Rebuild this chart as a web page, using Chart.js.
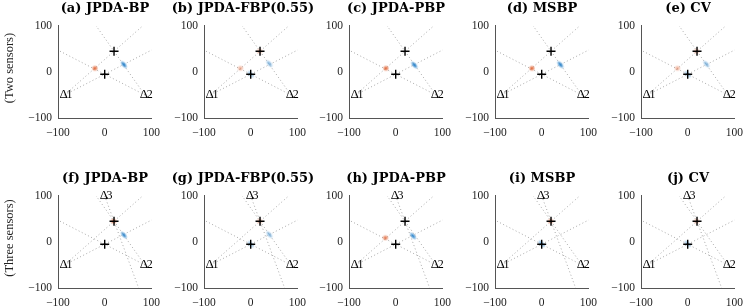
<!DOCTYPE html>
<html>
<head>
<meta charset="utf-8">
<script src="https://cdn.jsdelivr.net/npm/chart.js@4.4.1/dist/chart.umd.min.js"></script>
<style>
  body { margin: 0; background: #fff; }
  #fig { position: relative; width: 747px; height: 308px; overflow: hidden; background: #fff; }
  .panel { position: absolute; }
  .ttl { position: absolute; font: bold 13px "DejaVu Serif"; color: #000; white-space: nowrap; transform: translateX(-50%); }
  .rowlab { position: absolute; font: 12.5px "Liberation Serif"; color: #222; white-space: nowrap; transform: translate(-50%, -50%) rotate(-90deg); }
</style>
</head>
<body>
<div id="fig"></div>
<script>
"use strict";

// axis ticks
var tickValues = [-100, 0, 100];
var tickLabels = ['\u2212100', '0', '100'];

var topTitles = ['(a) JPDA-BP', '(b) JPDA-FBP(0.55)', '(c) JPDA-PBP', '(d) MSBP', '(e) CV'];
var bottomTitles = ['(f) JPDA-BP', '(g) JPDA-FBP(0.55)', '(h) JPDA-PBP', '(i) MSBP', '(j) CV'];
var rowLabels = ['(Two sensors)', '(Three sensors)'];

// sensor and target positions
var sensorsTwo = [[-86, -50], [86, -50]];
var sensorsThree = [[-86, -50], [86, -50], [0, 100]];
var targetPts = [[0, -5], [20, 45]];

// bearing lines: [sensor, target]
var bearingsTwo = [[0, 0], [0, 1], [1, 0], [1, 1]];
var bearingsThree = [[0, 0], [0, 1], [1, 0], [1, 1], [2, 1]];

// particle clouds per panel (a..j)
var redClouds = [
	[[-21, 8]],
	[[-22, 8], [19, 45]],
	[[-21, 8]],
	[[-21, 8]],
	[[-22, 8], [19, 45]],
	[[19, 45]],
	[[19, 45]],
	[[-22, 9]],
	[[19, 45]],
	[[19, 45]]
];
var blueClouds = [
	[[41, 16]],
	[[40, 18], [0, -5]],
	[[40, 15]],
	[[40, 16]],
	[[40, 17], [0, -5]],
	[[41, 15]],
	[[40, 16], [0, -5]],
	[[37, 13]],
	[[0, -4]],
	[[0, -4]]
];

// styles
var cloudShade = [1, 0.55, 1, 1, 0.55, 0.9, 0.55, 0.9, 0.75, 0.55];
var redRgb = '225,95,45';
var blueRgb = '20,120,200';
var lineColor = '#a8a8a8';

var axLeft0 = 58, axStep = 145.7, axW = 98, axH = 97;
var rowTops = [21, 191];
var padL = 45, padT = 8, padR = 12, padB = 30;

function CloudImage(rgb, rx, ry, rot, alpha) {
	var c = document.createElement('canvas');
	c.width = 16; c.height = 16;
	var g = c.getContext('2d');
	g.translate(8, 8);
	g.rotate(rot);
	g.scale(rx, ry);
	var grad = g.createRadialGradient(0, 0, 0, 0, 0, 1);
	grad.addColorStop(0, 'rgba(' + rgb + ',' + alpha + ')');
	grad.addColorStop(0.4, 'rgba(' + rgb + ',' + (alpha * 0.65) + ')');
	grad.addColorStop(1, 'rgba(' + rgb + ',0)');
	g.fillStyle = grad;
	g.beginPath();
	g.arc(0, 0, 1, 0, 2 * Math.PI);
	g.fill();
	return c;
}

var sensorLabels = {
	id: 'sensorLabels',
	afterDatasetsDraw: function (chart, args, opts) {
		var ctx = chart.ctx, x = chart.scales.x, y = chart.scales.y;
		ctx.save();
		ctx.fillStyle = '#000';
		ctx.textAlign = 'left';
		ctx.textBaseline = 'middle';
		opts.sensors.forEach(function (s, i) {
			var px = x.getPixelForValue(s[0]) - 5, py = y.getPixelForValue(s[1]);
			ctx.font = '13px "Liberation Serif"';
			ctx.fillText('\u0394', px, py);
			var w = ctx.measureText('\u0394').width;
			ctx.font = '12px "Liberation Serif"';
			ctx.fillText(String(i + 1), px + w - 1.5, py);
		});
		ctx.restore();
	}
};

function toXY(p) { return { x: p[0], y: p[1] }; }

function BuildPanel(i) {
	var row = i < 5 ? 0 : 1;
	var col = i % 5;
	var sensors = row === 0 ? sensorsTwo : sensorsThree;
	var bearings = row === 0 ? bearingsTwo : bearingsThree;
	var axL = Math.round(axLeft0 + col * axStep);
	var axT = rowTops[row];

	var holder = document.createElement('div');
	holder.className = 'panel';
	holder.style.left = (axL - padL) + 'px';
	holder.style.top = (axT - padT) + 'px';
	var cv = document.createElement('canvas');
	cv.width = padL + axW + padR;
	cv.height = padT + axH + padB;
	holder.appendChild(cv);
	document.getElementById('fig').appendChild(holder);

	var ttl = document.createElement('div');
	ttl.className = 'ttl';
	ttl.textContent = (row === 0 ? topTitles : bottomTitles)[col];
	ttl.style.left = (axL + axW / 2 - (col === 1 ? 10 : 2)) + 'px';
	ttl.style.top = (axT - 21) + 'px';
	document.getElementById('fig').appendChild(ttl);

	var datasets = [];
	// targets on top
	datasets.push({
		data: targetPts.map(toXY),
		pointStyle: 'cross',
		pointRadius: 4.5,
		borderColor: '#000',
		pointBorderWidth: 1.4,
		showLine: false,
		order: 0
	});
	var shade = cloudShade[i];
	datasets.push({
		data: blueClouds[i].map(toXY),
		pointStyle: CloudImage(blueRgb, 5, 2.7, 0.85, shade),
		pointRadius: 4,
		showLine: false,
		order: 1
	});
	datasets.push({
		data: redClouds[i].map(toXY),
		pointStyle: CloudImage(redRgb, 3.6, 3.2, 0, shade),
		pointRadius: 4,
		showLine: false,
		order: 1
	});
	bearings.forEach(function (b) {
		var s = sensors[b[0]], t = targetPts[b[1]];
		var far = [s[0] + 4 * (t[0] - s[0]), s[1] + 4 * (t[1] - s[1])];
		datasets.push({
			data: [toXY(s), toXY(far)],
			showLine: true,
			borderColor: lineColor,
			borderWidth: 1,
			borderDash: [1, 2.5],
			pointRadius: 0,
			order: 2
		});
	});

	var axisOpts = function (isY) {
		return {
			type: 'linear',
			min: -100,
			max: 100,
			afterBuildTicks: function (scale) {
				scale.ticks = tickValues.map(function (v) { return { value: v }; });
			},
			afterFit: function (scale) {
				if (isY) scale.width = padL; else scale.height = padB;
			},
			grid: { display: false, drawTicks: false },
			border: { display: true, color: '#555', width: 1 },
			ticks: {
				padding: isY ? 6 : 8,
				color: '#222',
				font: { family: 'Liberation Serif', size: 11.5 },
				callback: function (v) { return tickLabels[tickValues.indexOf(v)]; }
			}
		};
	};

	new Chart(cv, {
		type: 'scatter',
		data: { datasets: datasets },
		options: {
			responsive: false,
			animation: false,
			devicePixelRatio: 1,
			layout: { padding: { top: padT, right: padR, left: 0, bottom: 0 } },
			plugins: {
				legend: { display: false },
				tooltip: { enabled: false },
				sensorLabels: { sensors: sensors }
			},
			scales: { x: axisOpts(false), y: axisOpts(true) }
		},
		plugins: [sensorLabels]
	});
}

for (var i = 0; i < 10; i++) BuildPanel(i);

rowLabels.forEach(function (txt, r) {
	var d = document.createElement('div');
	d.className = 'rowlab';
	d.textContent = txt;
	d.style.left = '9px';
	d.style.top = (rowTops[r] + axH / 2 - 2) + 'px';
	document.getElementById('fig').appendChild(d);
});
</script>
</body>
</html>
